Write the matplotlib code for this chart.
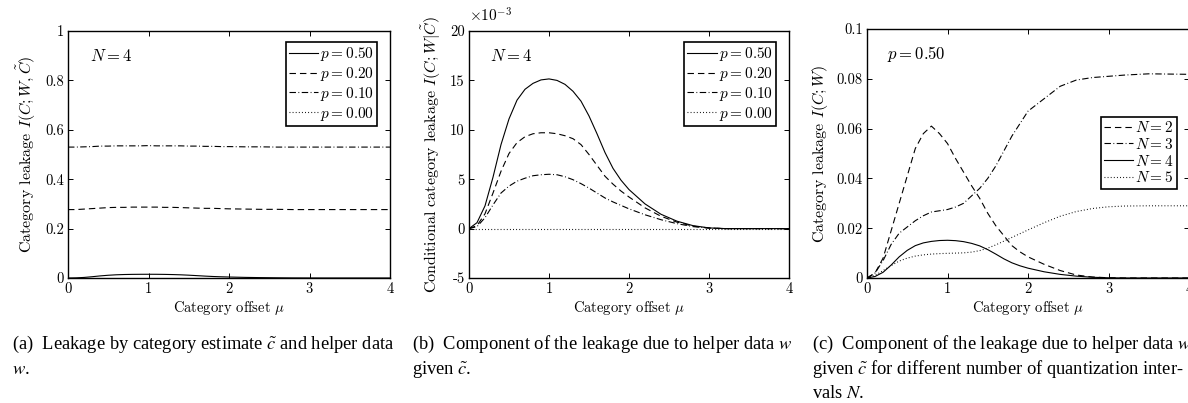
import numpy as np
import matplotlib
matplotlib.use("Agg")
import matplotlib.pyplot as plt
from matplotlib.ticker import FuncFormatter

plt.rcParams['font.family'] = 'cmr10'
plt.rcParams['mathtext.fontset'] = 'cm'
plt.rcParams['axes.formatter.use_mathtext'] = True
plt.rcParams['axes.unicode_minus'] = False

# category offset mu (shared x values)
mu = [0, 0.1, 0.2, 0.3, 0.4, 0.5, 0.6, 0.7, 0.8, 0.9, 1.0, 1.1, 1.2, 1.3, 1.4,
      1.5, 1.6, 1.7, 1.8, 1.9, 2.0, 2.2, 2.4, 2.6, 2.8, 3.0, 3.2, 3.5, 4.0]

# (a) I(C;W,C~), N = 4
a_p50 = [0, 0.0006, 0.0023, 0.0052, 0.0085, 0.0111, 0.0130, 0.0141, 0.0147, 0.0150, 0.0151, 0.0150, 0.0146, 0.0139, 0.0129,
         0.0114, 0.0096, 0.0077, 0.0061, 0.0049, 0.0040, 0.0025, 0.0015, 0.0008, 0.0003, 0.0001, 0, 0, 0]
a_p20 = [0.277, 0.277, 0.279, 0.281, 0.283, 0.285, 0.286, 0.286, 0.287, 0.287, 0.287, 0.287, 0.286, 0.286, 0.285,
         0.284, 0.283, 0.282, 0.282, 0.281, 0.280, 0.279, 0.278, 0.278, 0.277, 0.277, 0.277, 0.277, 0.277]
a_p10 = [0.530, 0.530, 0.531, 0.532, 0.534, 0.534, 0.535, 0.535, 0.535, 0.535, 0.536, 0.535, 0.535, 0.535, 0.535,
         0.534, 0.534, 0.533, 0.533, 0.532, 0.532, 0.531, 0.531, 0.530, 0.530, 0.530, 0.530, 0.530, 0.530]
a_p00 = [2.0] * 29  # above the plotted range

# (b) I(C;W|C~), N = 4
b_p50 = [0, 0.0006, 0.0023, 0.0052, 0.0085, 0.0111, 0.0130, 0.0141, 0.0147, 0.01505, 0.01515, 0.0150, 0.0146, 0.0139, 0.0129,
         0.0114, 0.0096, 0.0077, 0.0061, 0.0049, 0.00395, 0.0025, 0.00145, 0.00075, 0.0003, 0.00007, 0, 0, 0]
b_p20 = [0, 0.0003, 0.0015, 0.0036, 0.0058, 0.0076, 0.0087, 0.0093, 0.0096, 0.0097, 0.0097, 0.0096, 0.0094, 0.0091, 0.0085,
         0.0075, 0.0064, 0.0053, 0.0045, 0.0038, 0.0032, 0.0021, 0.00125, 0.00065, 0.00025, 0.00006, 0, 0, 0]
b_p10 = [0, 0.0002, 0.0011, 0.0024, 0.0036, 0.0043, 0.0048, 0.0051, 0.00535, 0.00545, 0.0055, 0.00545, 0.00525, 0.00495, 0.00455,
         0.0041, 0.0036, 0.0031, 0.0027, 0.00235, 0.0020, 0.0014, 0.0009, 0.0005, 0.0002, 0.00005, 0, 0, 0]
b_p00 = [0] * 29

# (c) I(C;W), p = 0.50
c_N2 = [0, 0.002, 0.008, 0.019, 0.030, 0.041, 0.052, 0.058, 0.061, 0.058, 0.054, 0.048, 0.0425, 0.037, 0.032,
        0.026, 0.021, 0.017, 0.013, 0.0105, 0.0085, 0.0055, 0.003, 0.0012, 0.0004, 0.0001, 0, 0, 0]
c_N3 = [0, 0.002, 0.007, 0.0135, 0.018, 0.0205, 0.023, 0.025, 0.0265, 0.027, 0.0275, 0.0285, 0.030, 0.033, 0.036,
        0.040, 0.045, 0.051, 0.057, 0.062, 0.067, 0.072, 0.077, 0.0795, 0.0805, 0.081, 0.0815, 0.082, 0.0818]
c_N4 = b_p50
c_N5 = [0, 0.001, 0.003, 0.005, 0.0068, 0.008, 0.0088, 0.0093, 0.0096, 0.0098, 0.0099, 0.0100, 0.0101, 0.0104, 0.0110,
        0.0120, 0.0133, 0.0148, 0.0163, 0.0178, 0.0193, 0.0222, 0.0248, 0.0267, 0.0279, 0.0286, 0.0289, 0.0290, 0.0290]

p_labels = ['$p = 0.50$', '$p = 0.20$', '$p = 0.10$', '$p = 0.00$']
n_labels = ['$N = 2$', '$N = 3$', '$N = 4$', '$N = 5$']

solid = '-'
dashed = (0, (5.8, 3.6))
dashdot = (0, (5.8, 2.2, 0.8, 2.2))
dotted = (0, (0.8, 2.0))

W, H = 1188, 403
fig = plt.figure(figsize=(W / 100, H / 100), dpi=100)

def add_ax(left, top, right, bottom):
    return fig.add_axes([left / W, 1 - bottom / H, (right - left) / W, (bottom - top) / H])

ax_a = add_ax(68, 31, 390, 278)
ax_b = add_ax(469, 31, 789, 278)
ax_c = add_ax(867, 29, 1189, 278)

lw = 0.8

def style(ax):
    ax.set_xlim(0, 4)
    ax.set_xticks([0, 1, 2, 3, 4])
    ax.tick_params(direction='in', top=True, right=True, labelsize=10.5, length=3.5, width=0.7, pad=3)
    for s in ax.spines.values():
        s.set_linewidth(1.0)
    ax.set_xlabel(r'Category offset $\mu$', fontsize=10.5, labelpad=2)
    ax.xaxis.set_major_formatter(FuncFormatter(lambda v, pos: '%g' % v))

def leg(ax, anchor):
    lg = ax.legend(loc='upper right', bbox_to_anchor=anchor, borderaxespad=0, fontsize=11,
                   fancybox=False, framealpha=1, edgecolor='black', handlelength=1.9,
                   handletextpad=0.15, labelspacing=0.12, borderpad=0.2)
    lg.get_frame().set_linewidth(1.2)

# (a)
ax = ax_a
ax.plot(mu, a_p50, color='black', lw=lw, linestyle=solid, label=p_labels[0])
ax.plot(mu, a_p20, color='black', lw=lw, linestyle=dashed, label=p_labels[1])
ax.plot(mu, a_p10, color='black', lw=lw, linestyle=dashdot, label=p_labels[2])
ax.plot(mu, a_p00, color='black', lw=lw, linestyle=dotted, label=p_labels[3])
ax.set_ylim(0, 1)
ax.set_yticks([0, 0.2, 0.4, 0.6, 0.8, 1])
ax.yaxis.set_major_formatter(FuncFormatter(lambda v, pos: '%g' % v))
style(ax)
ax.set_ylabel(r'Category leakage $I(C;W,\tilde{C})$', fontsize=11.5, labelpad=5)
ax.text(0.068, 0.9, '$N = 4$', transform=ax.transAxes, fontsize=12, va='center')
leg(ax, (0.96, 0.955))

# (b)
ax = ax_b
ax.plot(mu, b_p50, color='black', lw=lw, linestyle=solid, label=p_labels[0])
ax.plot(mu, b_p20, color='black', lw=lw, linestyle=dashed, label=p_labels[1])
ax.plot(mu, b_p10, color='black', lw=lw, linestyle=dashdot, label=p_labels[2])
ax.plot(mu, b_p00, color='black', lw=lw, linestyle=dotted, label=p_labels[3])
ax.set_ylim(-0.005, 0.020)
ax.set_yticks([-0.005, 0, 0.005, 0.010, 0.015, 0.020])
ax.yaxis.set_major_formatter(FuncFormatter(lambda v, pos: '%g' % round(v * 1000, 6)))
style(ax)
ax.set_ylabel(r'Conditional category leakage $I(C;W|\tilde{C})$', fontsize=11.5, labelpad=5)
ax.text(0.0, 1.025, r'$\times10^{-3}$', transform=ax.transAxes, fontsize=11, va='bottom')
ax.text(0.066, 0.9, '$N = 4$', transform=ax.transAxes, fontsize=12, va='center')
leg(ax, (0.959, 0.955))

# (c)
ax = ax_c
ax.plot(mu, c_N2, color='black', lw=lw, linestyle=dashed, label=n_labels[0])
ax.plot(mu, c_N3, color='black', lw=lw, linestyle=dashdot, label=n_labels[1])
ax.plot(mu, c_N4, color='black', lw=lw, linestyle=solid, label=n_labels[2])
ax.plot(mu, c_N5, color='black', lw=lw, linestyle=dotted, label=n_labels[3])
ax.set_ylim(0, 0.1)
ax.set_yticks([0, 0.02, 0.04, 0.06, 0.08, 0.1])
ax.yaxis.set_major_formatter(FuncFormatter(lambda v, pos: '%g' % round(v, 6)))
style(ax)
ax.set_ylabel(r'Category leakage $I(C;W)$', fontsize=11.5, labelpad=5)
ax.text(0.062, 0.9, '$p = 0.50$', transform=ax.transAxes, fontsize=12, va='center')
leg(ax, (0.963, 0.647))

# captions
cap = dict(family='Liberation Serif', math_fontfamily='stix', fontsize=13.3, va='center', ha='left')
fig.text(12 / W, 1 - 344 / H, r'(a)  Leakage by category estimate $\tilde{c}$ and helper data', **cap)
fig.text(12 / W, 1 - 369 / H, r'$w$.', **cap)
fig.text(412 / W, 1 - 344 / H, r'(b)  Component of the leakage due to helper data $w$', **cap)
fig.text(412 / W, 1 - 369 / H, r'given $\tilde{c}$.', **cap)
fig.text(812 / W, 1 - 344 / H, r'(c)  Component of the leakage due to helper data $w$', **cap)
fig.text(812 / W, 1 - 369 / H, r'given $\tilde{c}$ for different number of quantization inter-', **cap)
fig.text(812 / W, 1 - 394 / H, r'vals $N$.', **cap)

fig.savefig('out.png', dpi=100)
